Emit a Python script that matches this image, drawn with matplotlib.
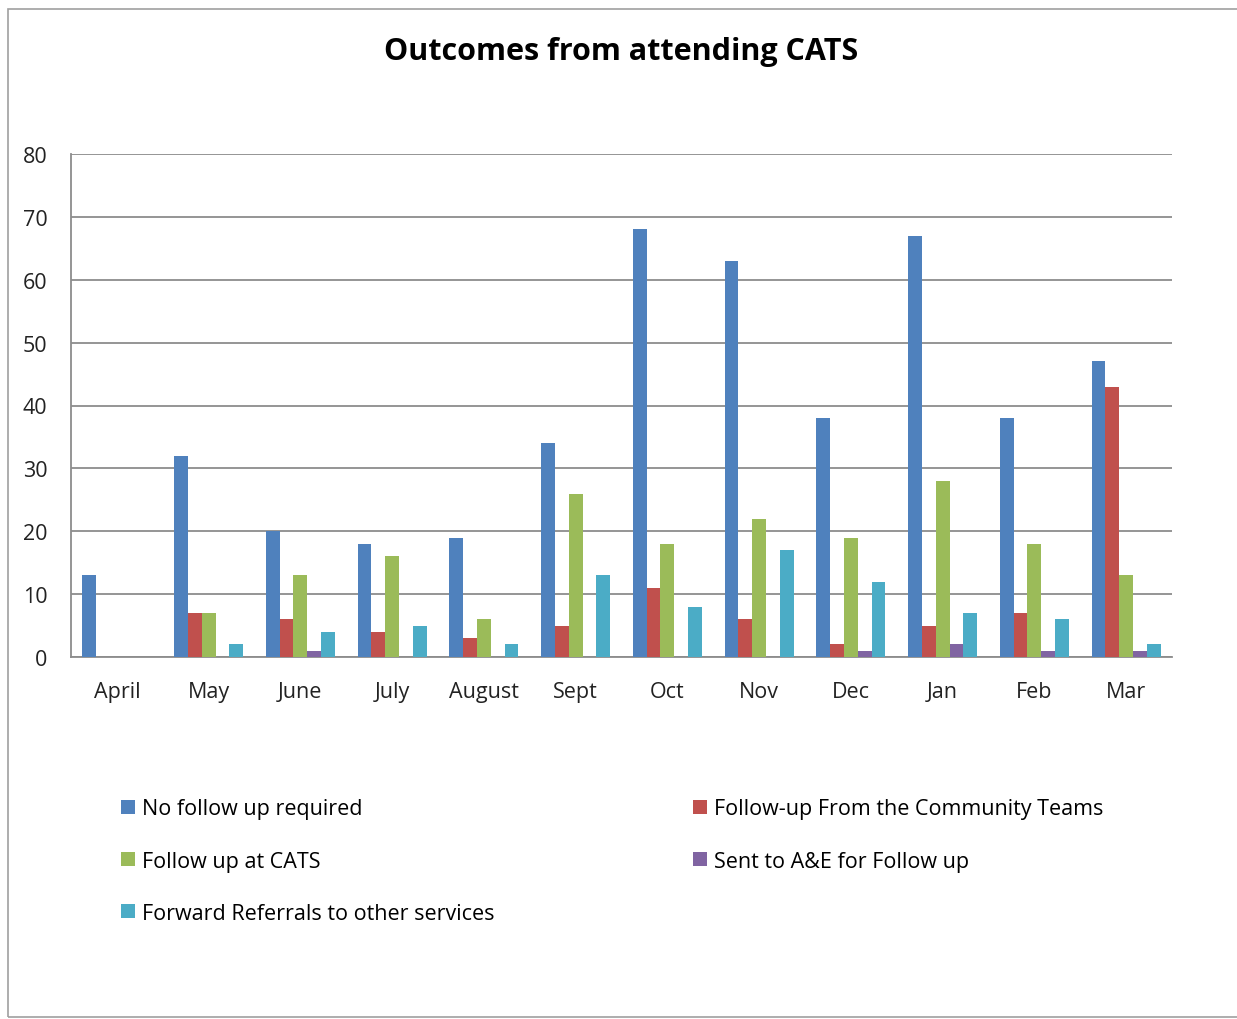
import numpy as np
import matplotlib.pyplot as plt
from matplotlib.patches import Rectangle

months = ["April", "May", "June", "July", "August", "Sept", "Oct", "Nov", "Dec", "Jan", "Feb", "Mar"]

no_follow_up = [13, 32, 20, 18, 19, 34, 68, 63, 38, 67, 38, 47]
community_teams = [0, 7, 6, 4, 3, 5, 11, 6, 2, 5, 7, 43]
follow_up_cats = [0, 7, 13, 16, 6, 26, 18, 22, 19, 28, 18, 13]
sent_to_ae = [0, 0, 1, 0, 0, 0, 0, 0, 1, 2, 1, 1]
forward_referrals = [0, 2, 4, 5, 2, 13, 8, 17, 12, 7, 6, 2]

series = [
    ("No follow up required", no_follow_up, "#4F81BD"),
    ("Follow-up From the Community Teams", community_teams, "#C0504D"),
    ("Follow up at CATS", follow_up_cats, "#9BBB59"),
    ("Sent to A&E for Follow up", sent_to_ae, "#8064A2"),
    ("Forward Referrals to other services", forward_referrals, "#4BACC6"),
]

plt.rcParams["font.family"] = ["Open Sans", "DejaVu Sans"]

fig = plt.figure(figsize=(12.37, 10.2), dpi=100)
fig.patches.append(Rectangle((8 / 1237, 2 / 1020), 1.0, 1 - 12 / 1020, transform=fig.transFigure,
                             fill=False, edgecolor="#a0a0a0", linewidth=1.2))

ax = fig.add_axes([71 / 1237, 1 - 658 / 1020, 1101 / 1237, 503 / 1020])

x = np.arange(len(months))
w = 0.15
handles = []
for i, (name, vals, col) in enumerate(series):
    b = ax.bar(x + (i - 2) * w, vals, w, color=col, label=name, zorder=3)
    handles.append(b)

ax.set_xlim(-0.5, len(months) - 0.5)
ax.set_ylim(0, 80)
ax.set_yticks(range(0, 81, 10))
ax.set_xticks(x)
ax.set_xticklabels(months)
ax.tick_params(axis="both", length=0, labelsize=15.5, colors="#222222")
ax.tick_params(axis="x", pad=17)
ax.tick_params(axis="y", pad=17)
ax.grid(axis="y", color="#8c8c8c", linewidth=1.3, zorder=0)
for s in ["top", "right"]:
    ax.spines[s].set_visible(False)
for s in ["left", "bottom"]:
    ax.spines[s].set_color("#8c8c8c")
    ax.spines[s].set_linewidth(1.3)

fig.text(0.502, 1 - 52 / 1020, "Outcomes from attending CATS", ha="center", va="center",
         fontsize=22, fontweight="bold")

order = [0, 2, 4, 1, 3]
fig.legend([handles[i] for i in order], [series[i][0] for i in order],
           loc="upper left", bbox_to_anchor=(102 / 1237, 1 - 780 / 1020), ncol=2,
           frameon=False, fontsize=15.5, handlelength=0.65, handleheight=0.65,
           handletextpad=0.3, labelspacing=1.45, columnspacing=9.25)

fig.savefig("out.png", dpi=100)
